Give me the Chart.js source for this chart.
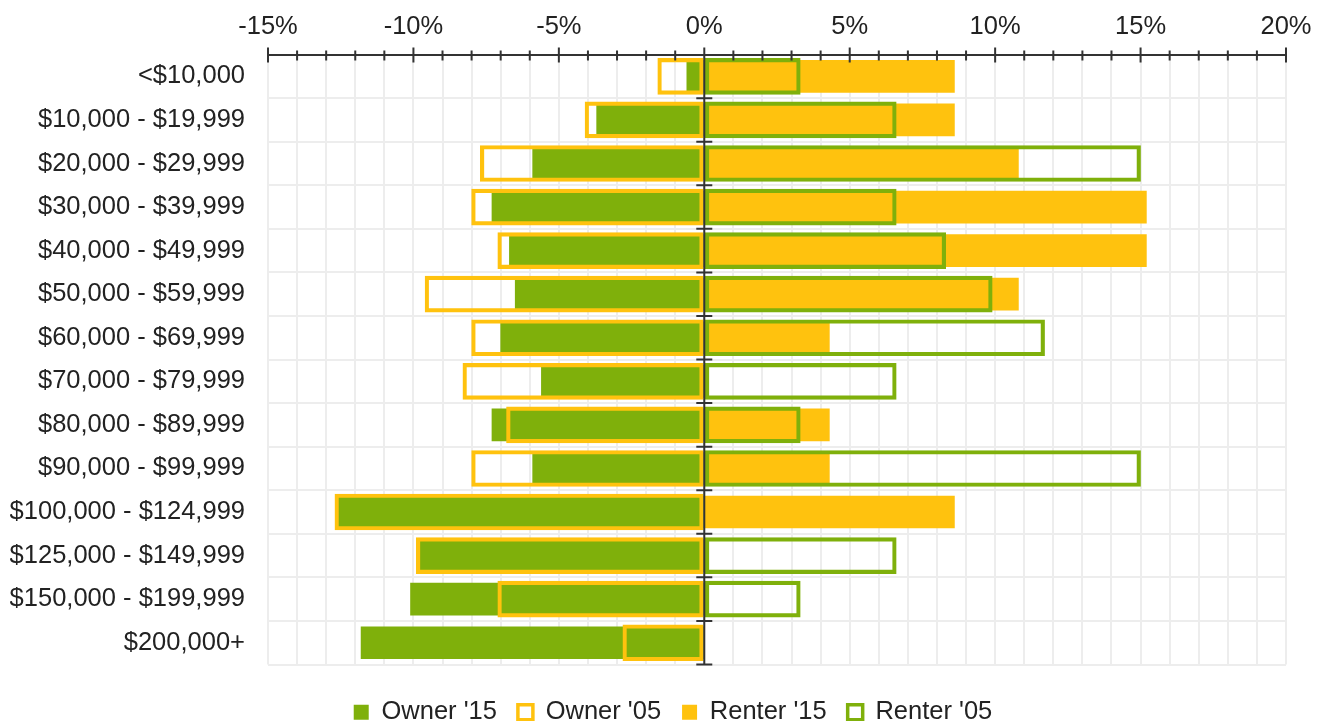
<!DOCTYPE html>
<html>
<head>
<meta charset="utf-8">
<title>Household income: owners vs renters</title>
<script src="https://cdn.jsdelivr.net/npm/chart.js@4.4.1/dist/chart.umd.min.js"></script>
<style>
  html, body { margin: 0; padding: 0; background: #fff; }
  #wrap { width: 1325px; height: 721px; position: relative; }
</style>
</head>
<body>
<div id="wrap"><canvas id="incomeChart"></canvas></div>
<script>
// Income brackets (top to bottom)
const categories = [
    '<$10,000', '$10,000 - $19,999', '$20,000 - $29,999', '$30,000 - $39,999',
    '$40,000 - $49,999', '$50,000 - $59,999', '$60,000 - $69,999', '$70,000 - $79,999',
    '$80,000 - $89,999', '$90,000 - $99,999', '$100,000 - $124,999', '$125,000 - $149,999',
    '$150,000 - $199,999', '$200,000+'
];

// Share of households, % (owners plotted as negatives)
const owner15  = [-0.6, -3.7, -5.9, -7.3, -6.7, -6.5, -7.0, -5.6, -7.3, -5.9, -12.6, -9.8, -10.1, -11.8];
const owner05  = [-1.6, -4.1, -7.7, -8.0, -7.1, -9.6, -8.0, -8.3, -6.8, -8.0, -12.7, -9.9, -7.1, -2.8];
const renter15 = [8.6, 8.6, 10.8, 15.2, 15.2, 10.8, 4.3, 0, 4.3, 4.3, 8.6, 0, 0, 0];
const renter05 = [3.3, 6.6, 15.0, 6.6, 8.3, 9.9, 11.7, 6.6, 3.3, 15.0, 0, 6.6, 3.3, 0];

// Axis ticks
const axisMin = -15;
const axisMax = 20;
const majorStep = 5;

const GREEN = '#7fb00b';
const YELLOW = '#ffc20e';
const INK = '#333333';
const FONT = "'Liberation Sans', Arial, sans-serif";

// zero line with band ticks + crossing tick marks on the top axis
const axisMarks = {
    id: 'axisMarks',
    afterLayout(chart) {
        // nudge legend so it sits like the original
        chart.legend.left += 25;
        chart.legend.right += 25;
        chart.legend.top += 14;
        chart.legend.bottom += 14;
    },
    afterDatasetsDraw(chart) {
        const { ctx, chartArea } = chart;
        const xs = chart.scales.x;
        const ys = chart.scales.y;
        const x0 = xs.getPixelForValue(0);
        const band = ys.getPixelForValue(1) - ys.getPixelForValue(0);

        ctx.save();
        ctx.strokeStyle = INK;
        ctx.lineWidth = 2;
        ctx.beginPath();
        ctx.moveTo(x0, chartArea.top);
        ctx.lineTo(x0, chartArea.bottom);
        for (let i = 1; i <= categories.length; i++) {
            const py = ys.getPixelForValue(i) - band / 2;
            ctx.moveTo(x0 - 8, py);
            ctx.lineTo(x0 + 8, py);
        }
        const ay = chartArea.top;
        for (let v = axisMin; v <= axisMax; v++) {
            const px = xs.getPixelForValue(v);
            const major = v % majorStep === 0;
            ctx.moveTo(px, ay - (major ? 7 : 4));
            ctx.lineTo(px, ay + (major ? 8 : 6));
        }
        ctx.stroke();
        ctx.restore();
    }
};

document.addEventListener('DOMContentLoaded', function () {
    const ctx = document.getElementById('incomeChart').getContext('2d');

    new Chart(ctx, {
        type: 'bar',
        data: {
            labels: categories,
            datasets: [
                { label: "Owner '15", data: owner15, backgroundColor: GREEN, borderWidth: 0, barThickness: 32, order: 2 },
                { label: "Owner '05", data: owner05, backgroundColor: 'rgba(0,0,0,0)', borderColor: YELLOW, borderWidth: 3.5, borderSkipped: false, barThickness: 36, order: 1 },
                { label: "Renter '15", data: renter15, backgroundColor: YELLOW, borderWidth: 0, barThickness: 32, order: 2 },
                { label: "Renter '05", data: renter05, backgroundColor: 'rgba(0,0,0,0)', borderColor: GREEN, borderWidth: 3.5, borderSkipped: false, barThickness: 36, order: 1 }
            ]
        },
        options: {
            indexAxis: 'y',
            responsive: true,
            maintainAspectRatio: false,
            animation: false,
            layout: { padding: { left: 10, right: 39, top: 0, bottom: 0 } },
            datasets: { bar: { grouped: false } },
            plugins: {
                legend: {
                    position: 'bottom',
                    labels: {
                        color: '#222',
                        font: { family: FONT, size: 25.5 },
                        boxWidth: 15,
                        boxHeight: 15,
                        padding: 21,
                        sort: (a, b) => a.datasetIndex - b.datasetIndex
                    }
                },
                tooltip: { enabled: false }
            },
            scales: {
                x: {
                    type: 'linear',
                    position: 'top',
                    min: axisMin,
                    max: axisMax,
                    grid: { color: '#ededed', lineWidth: 2, drawTicks: false },
                    border: { display: true, color: INK, width: 2 },
                    ticks: {
                        stepSize: 1,
                        autoSkip: false,
                        maxRotation: 0,
                        padding: 12,
                        color: '#222',
                        font: { family: FONT, size: 25.5 },
                        callback: v => (v % majorStep === 0 ? v + '%' : '')
                    }
                },
                y: {
                    grid: { color: '#ededed', lineWidth: 2, drawTicks: false, offset: true },
                    border: { display: false },
                    afterFit: scale => { scale.width = 258; },
                    ticks: {
                        padding: 23,
                        color: '#222',
                        font: { family: FONT, size: 25.5 }
                    }
                }
            }
        },
        plugins: [axisMarks]
    });
});
</script>
</body>
</html>
